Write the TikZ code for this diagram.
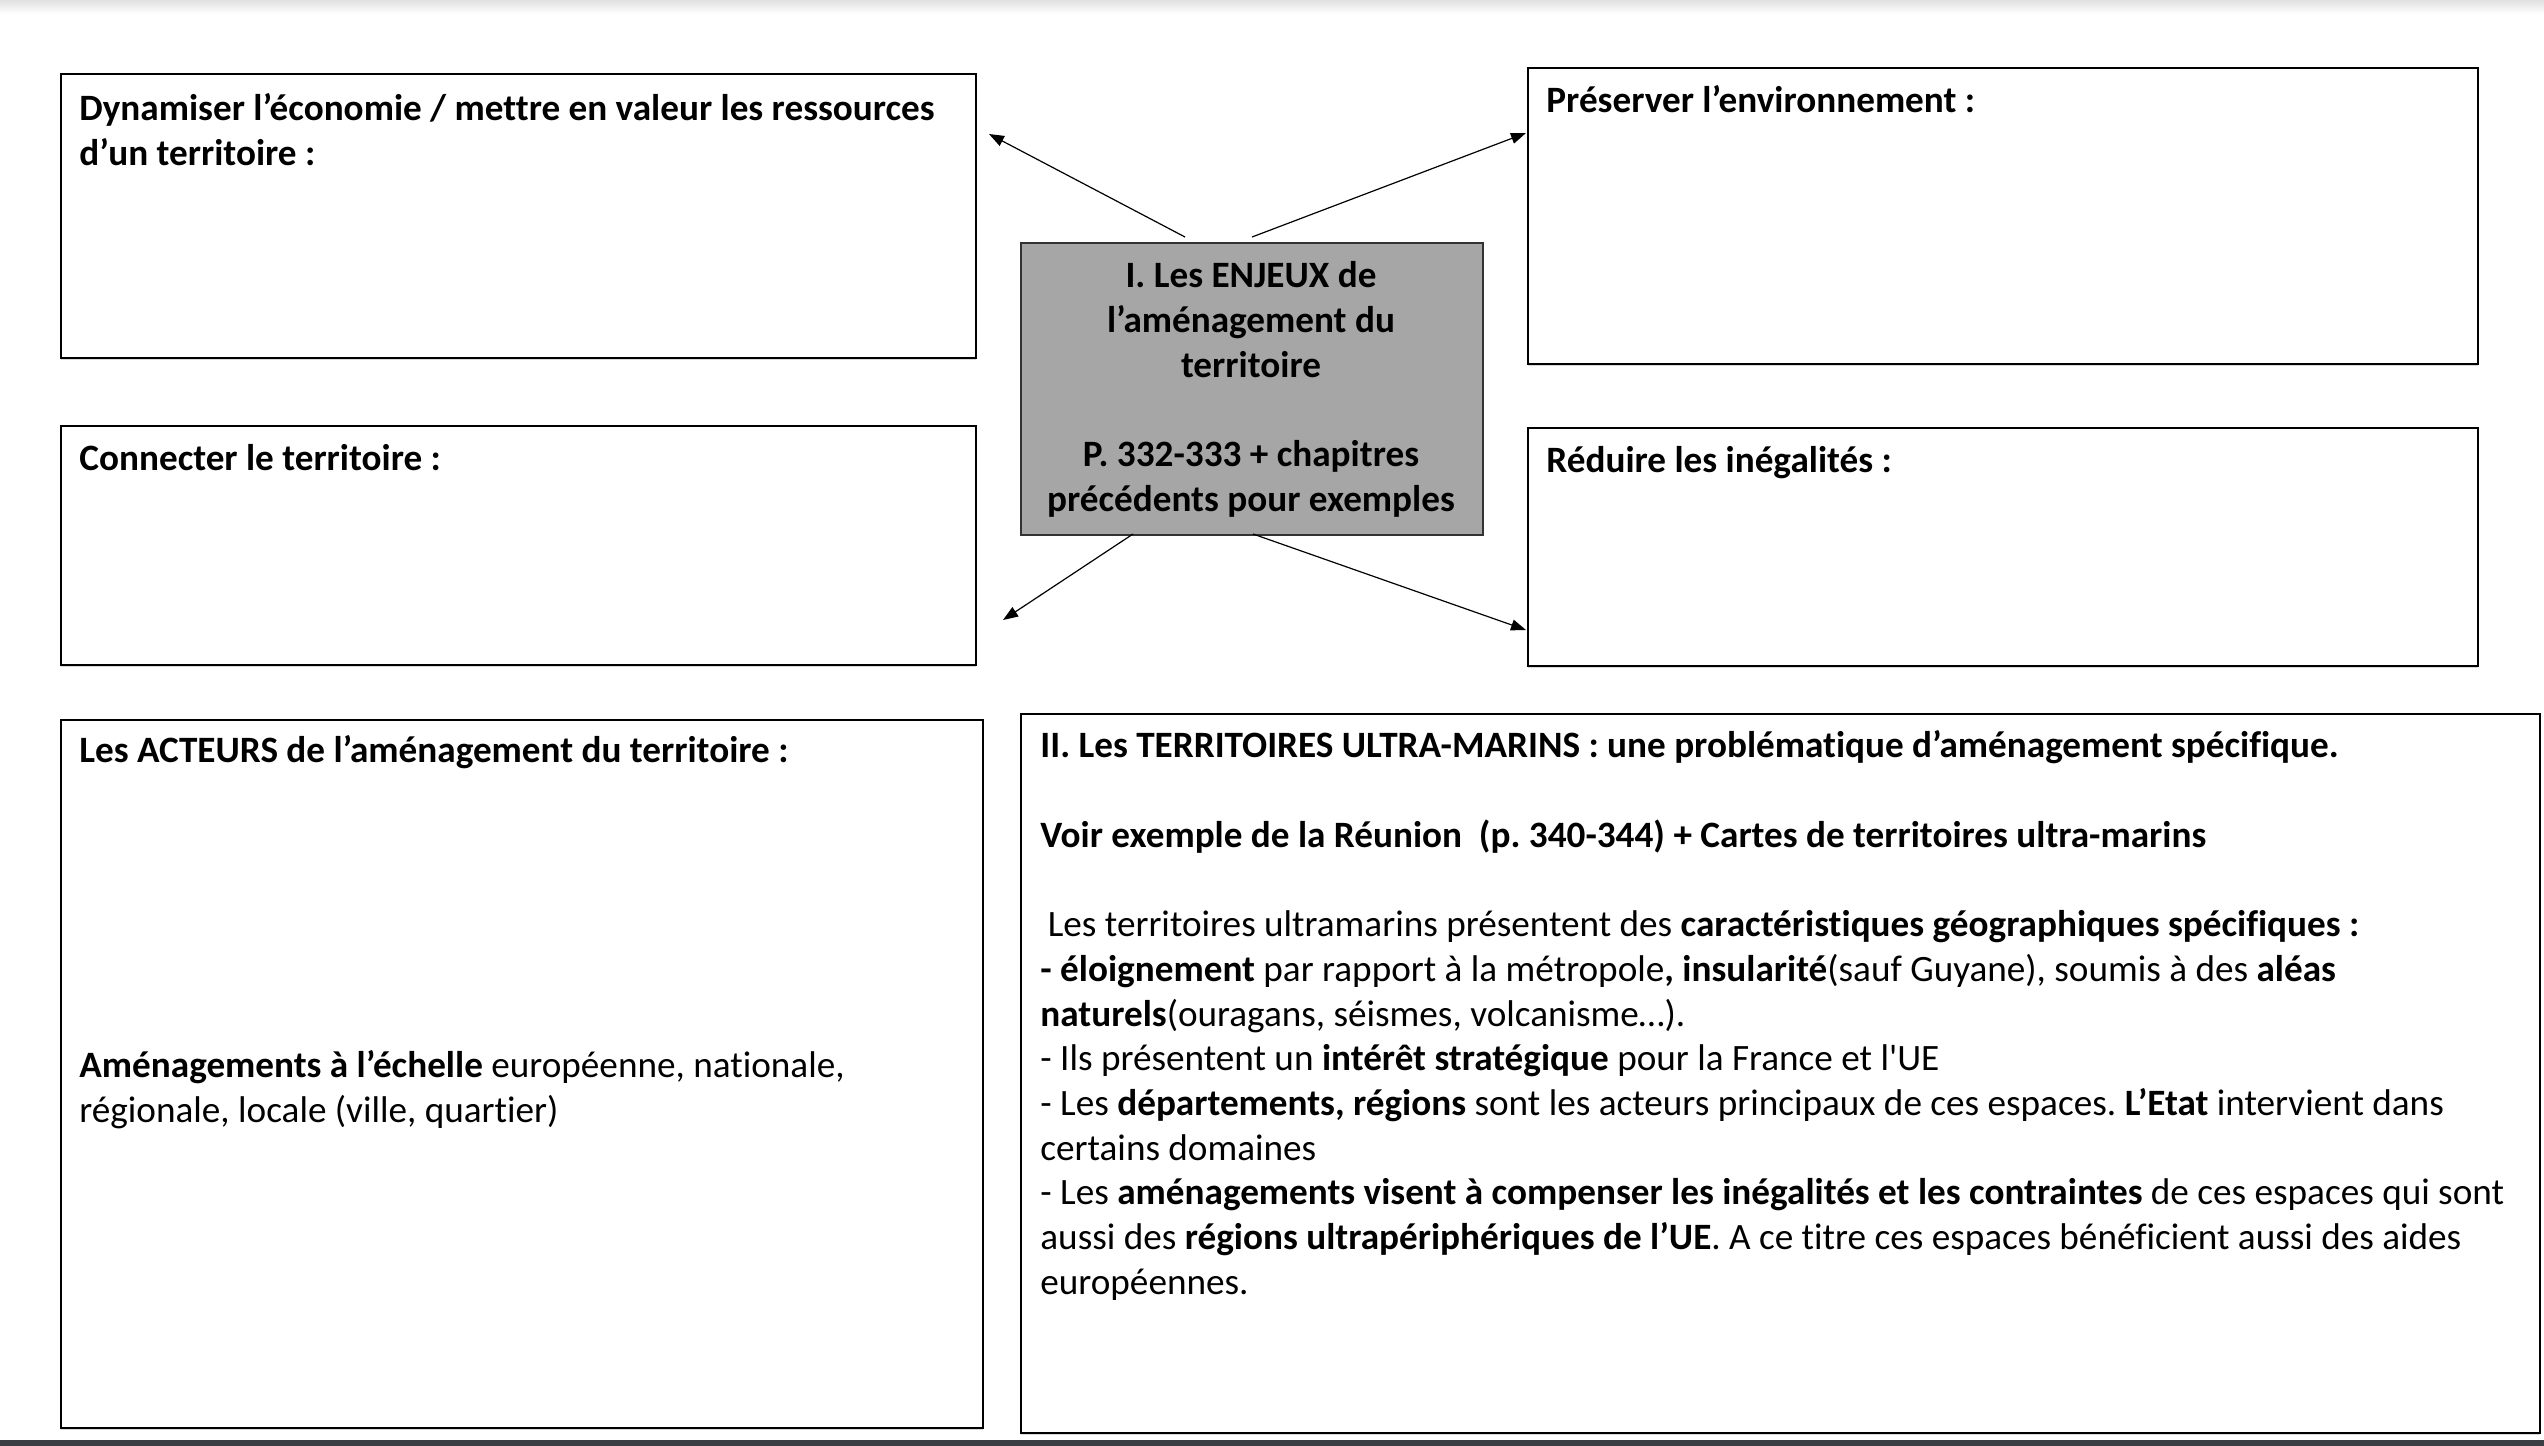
\documentclass[tikz,border=0pt]{standalone}
\usepackage{fontspec}
\setmainfont{Carlito}[Ligatures={TeXOff,NoCommon}]
\usetikzlibrary{arrows.meta,shadows}
\definecolor{cengray}{HTML}{A6A6A6}
\definecolor{barcol}{HTML}{3B3E42}
\frenchspacing
\begin{document}
\frenchspacing
\begin{tikzpicture}[x=0.5pt,y=-0.5pt,
  box/.style={draw=black, line width=0.8pt, fill=white, inner sep=0pt, anchor=north west,
    drop shadow={shadow xshift=0.3pt, shadow yshift=-0.9pt, opacity=0.3}},
  cenbox/.style={draw=black!80, line width=0.8pt, fill=cengray, inner sep=0pt, anchor=north west},
  txt/.style={anchor=north west, inner sep=0pt, align=left, font=\fontsize{18.6}{22.35}\selectfont},
  btxt/.style={txt, font=\fontsize{18.6}{22.35}\selectfont\bfseries},
  ctxt/.style={anchor=north, inner sep=0pt, align=center, font=\fontsize{18.6}{22.35}\selectfont\bfseries},
  arr/.style={line width=0.6pt, -{Triangle[length=7.5pt,width=5.5pt]}}
]
\fill[white] (0,0) rectangle (2544,1446);
\useasboundingbox (0,0) rectangle (2544,1446);
\shade[top color=black!12, bottom color=white] (0,0) rectangle (2544,14);
\fill[barcol] (0,1440) rectangle (2544,1446);

% boxes
\node[box, minimum width=457.5pt, minimum height=142pt] (A) at (60,73) {};
\node[box, minimum width=475pt, minimum height=148pt] (B) at (1527,67) {};
\node[box, minimum width=457.5pt, minimum height=119.5pt] (C) at (60,425) {};
\node[box, minimum width=475pt, minimum height=119pt] (D) at (1527,427) {};
\node[cenbox, minimum width=231pt, minimum height=146pt] (cen) at (1020,242) {};
\node[box, minimum width=461pt, minimum height=354pt] (E) at (60,719) {};
\node[box, minimum width=759.5pt, minimum height=359.5pt] (F) at (1020,713) {};

% texts
\node[btxt] (tA) at (79,84) {\rule{0pt}{18pt}Dynamiser l’économie / mettre en valeur les ressources\\ d’un territoire :};
\node[btxt] (tB) at (1546,76) {\rule{0pt}{18pt}Préserver l’environnement :};
\node[btxt] (tC) at (79,434.5) {\rule{0pt}{18pt}Connecter le territoire :};
\node[btxt] (tD) at (1546,436.5) {\rule{0pt}{18pt}Réduire les inégalités :};
\node[ctxt] (tcen) at (1251,251.5) {\rule{0pt}{18pt}I. Les ENJEUX de\\ l’aménagement du\\ territoire\\[22.35pt] P. 332-333 + chapitres\\ précédents pour exemples};
\node[btxt] (tE) at (79,726.5) {\rule{0pt}{18pt}Les ACTEURS de l’aménagement du territoire :};
\node[txt] (tE2) at (79,1041.5) {\rule{0pt}{18pt}\textbf{Aménagements à l’échelle} européenne, nationale,\\ régionale, locale (ville, quartier)};
\node[txt] (tF) at (1040,721.5) {\rule{0pt}{18pt}\textbf{II. Les TERRITOIRES ULTRA-MARINS : une problématique d’aménagement spécifique.}\\[22.35pt]
\textbf{Voir exemple de la Réunion\ \ (p. 340-344) + Cartes de territoires ultra-marins}\\[22.35pt]
\hspace*{3.7pt}Les territoires ultramarins présentent des \textbf{caractéristiques géographiques spécifiques :}\\
\textbf{- éloignement} par rapport à la métropole\textbf{, insularité}(sauf Guyane), soumis à des \textbf{aléas}\\
\textbf{naturels}(ouragans, séismes, volcanisme…).\\
- Ils présentent un \textbf{intérêt stratégique} pour la France et l'UE\\
- Les \textbf{départements, régions} sont les acteurs principaux de ces espaces. \textbf{L’Etat} intervient dans\\
certains domaines\\
- Les \textbf{aménagements visent à compenser les inégalités et les contraintes} de ces espaces qui sont\\
aussi des \textbf{régions ultrapériphériques de l’UE}. A ce titre ces espaces bénéficient aussi des aides\\
européennes.};

% connectors
\coordinate (s1) at (1185,237); \coordinate (e1) at (989,134);
\coordinate (s2) at (1252,237); \coordinate (e2) at (1526,133);
\coordinate (s3) at (1133,534); \coordinate (e3) at (1003,620);
\coordinate (s4) at (1253,534); \coordinate (e4) at (1526,630);
\draw[arr] (s1) -- (e1);
\draw[arr] (s2) -- (e2);
\draw[arr] (s3) -- (e3);
\draw[arr] (s4) -- (e4);
\end{tikzpicture}
\end{document}
